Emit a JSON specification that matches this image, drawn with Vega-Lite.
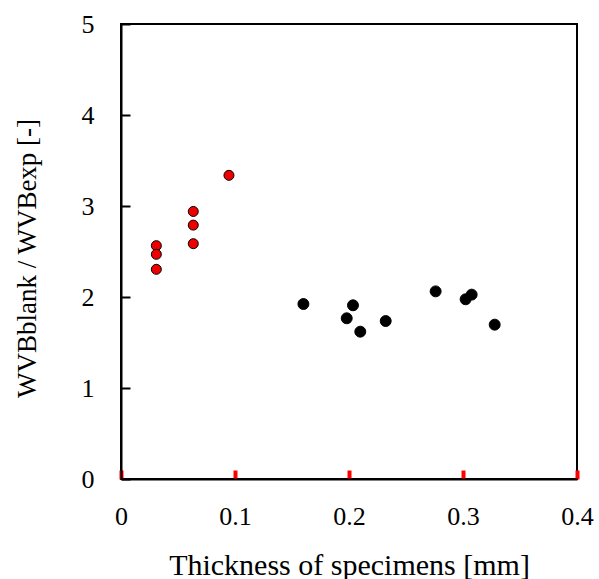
{
  "$schema": "https://vega.github.io/schema/vega-lite/v6.json",
  "width": 456,
  "height": 455,
  "autosize": "none",
  "padding": {"left": 121, "top": 24, "right": 22, "bottom": 100},
  "background": "white",
  "config": {
    "view": {"stroke": "black", "strokeWidth": 2},
    "font": "Liberation Serif"
  },
  "data": {
    "values": [
      {"t": 0.031, "r": 2.564, "group": "thin"},
      {"t": 0.031, "r": 2.469, "group": "thin"},
      {"t": 0.031, "r": 2.304, "group": "thin"},
      {"t": 0.0634, "r": 2.94, "group": "thin"},
      {"t": 0.0634, "r": 2.79, "group": "thin"},
      {"t": 0.0634, "r": 2.586, "group": "thin"},
      {"t": 0.0947, "r": 3.337, "group": "thin"},
      {"t": 0.160, "r": 1.923, "group": "thick"},
      {"t": 0.198, "r": 1.766, "group": "thick"},
      {"t": 0.2035, "r": 1.909, "group": "thick"},
      {"t": 0.2099, "r": 1.619, "group": "thick"},
      {"t": 0.2322, "r": 1.736, "group": "thick"},
      {"t": 0.276, "r": 2.062, "group": "thick"},
      {"t": 0.3023, "r": 1.975, "group": "thick"},
      {"t": 0.3076, "r": 2.026, "group": "thick"},
      {"t": 0.3278, "r": 1.696, "group": "thick"}
    ]
  },
  "mark": {"type": "point", "filled": true, "opacity": 1, "stroke": "black", "strokeWidth": 1},
  "encoding": {
    "x": {
      "field": "t", "type": "quantitative",
      "scale": {"domain": [0, 0.4], "nice": false, "zero": false},
      "axis": {
        "title": "Thickness of specimens [mm]",
        "values": [0, 0.1, 0.2, 0.3, 0.4],
        "format": "~g",
        "grid": false,
        "domainColor": "black", "domainWidth": 2,
        "tickColor": "red", "tickWidth": 4, "tickSize": -9,
        "labelFont": "Liberation Serif", "labelFontSize": 26, "labelColor": "black",
        "labelBaseline": "alphabetic", "labelPadding": 54, "labelFlush": false,
        "titleFont": "Liberation Serif", "titleFontSize": 30, "titleFontWeight": "normal", "titleColor": "black",
        "titleBaseline": "alphabetic", "titleY": 95
      }
    },
    "y": {
      "field": "r", "type": "quantitative",
      "scale": {"domain": [0, 5], "nice": false},
      "axis": {
        "title": "WVBblank / WVBexp [-]",
        "values": [0, 1, 2, 3, 4, 5],
        "grid": false,
        "domainColor": "black", "domainWidth": 2,
        "tickColor": "black", "tickWidth": 2, "tickSize": -9,
        "labelFont": "Liberation Serif", "labelFontSize": 26, "labelColor": "black",
        "labelPadding": 36, "labelFlush": false,
        "titleFont": "Liberation Serif", "titleFontSize": 27, "titleFontWeight": "normal", "titleColor": "black",
        "titleBaseline": "alphabetic", "titleX": -86, "titleY": 234, "titleAlign": "center", "titleAngle": 270
      }
    },
    "fill": {
      "field": "group", "type": "nominal",
      "scale": {"domain": ["thin", "thick"], "range": ["#ee0000", "black"]},
      "legend": null
    },
    "size": {
      "field": "group", "type": "nominal",
      "scale": {"domain": ["thin", "thick"], "range": [100, 120]},
      "legend": null
    }
  }
}
